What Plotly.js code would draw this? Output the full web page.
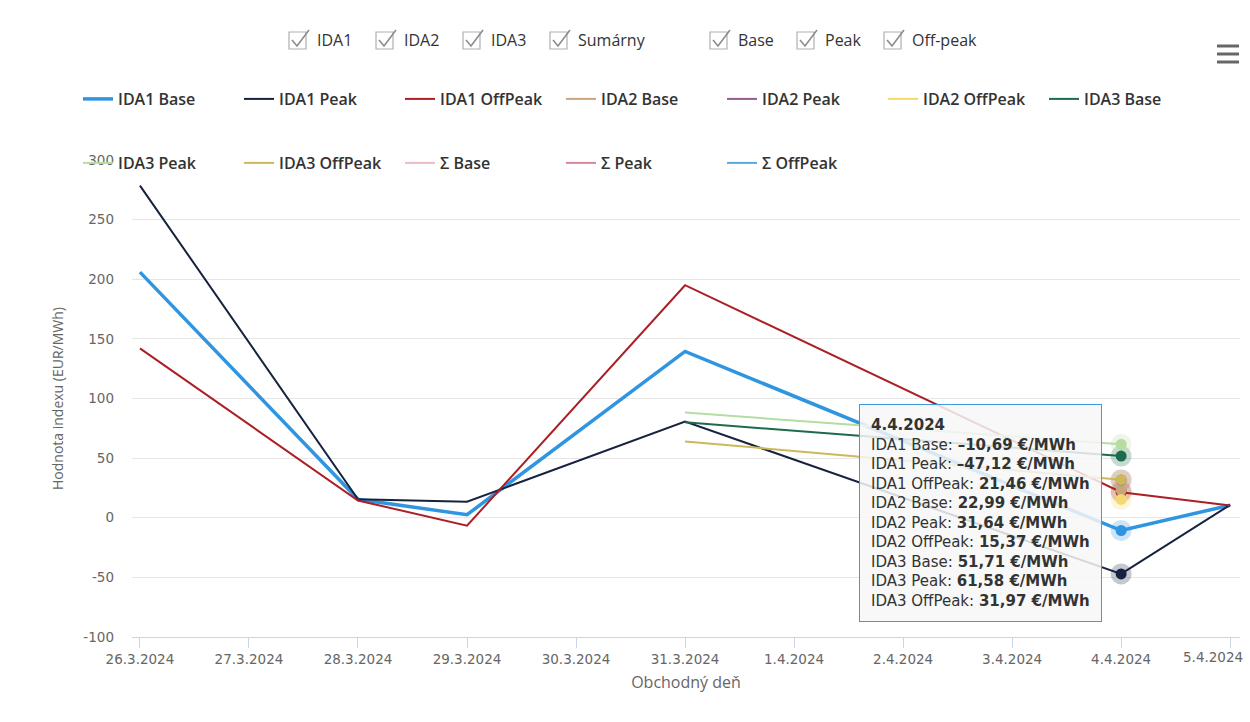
<!DOCTYPE html>
<html>
<head>
<meta charset="utf-8">
<script src="https://cdn.plot.ly/plotly-3.0.1.min.js"></script>
<style>html,body{margin:0;padding:0;background:#fff;}#chart{width:1250px;height:722px;}</style>
</head>
<body>
<div id="chart"></div>
<script>
// ---------------- data ----------------
const dates = ['2024-03-26', '2024-03-28', '2024-03-29', '2024-03-31', '2024-04-04', '2024-04-05'];
const ida1Base    = [206.0, 15.5, 2.5, 139.5, -10.69, 10.5];
const ida1Peak    = [278.5, 15.5, 13.4, 80.7, -47.12, 10.8];
const ida1OffPeak = [142.0, 14.5, -6.7, 195.0, 21.46, 10.3];
const ida2Dates   = ['2024-04-04'];
const ida2Base    = [22.99];
const ida2Peak    = [31.64];
const ida2OffPeak = [15.37];
const ida3Dates   = ['2024-03-31', '2024-04-04'];
const ida3Base    = [80.0, 51.71];
const ida3Peak    = [88.2, 61.58];
const ida3OffPeak = [64.0, 31.97];
const sumDates    = ['2024-04-04'];
const sumBase     = [null];
const sumPeak     = [null];
const sumOffPeak  = [null];
const hoverDate   = '2024-04-04';
const hoverLabel  = '4.4.2024';
const tickDates   = ['2024-03-26', '2024-03-27', '2024-03-28', '2024-03-29', '2024-03-30', '2024-03-31',
                     '2024-04-01', '2024-04-02', '2024-04-03', '2024-04-04', '2024-04-05'];
const tickLabels  = ['26.3.2024', '27.3.2024', '28.3.2024', '29.3.2024', '30.3.2024', '31.3.2024',
                     '1.4.2024', '2.4.2024', '3.4.2024', '4.4.2024', '5.4.2024'];
const yTicks      = [-100, -50, 0, 50, 100, 150, 200, 250, 300];
const filterLabels = ['IDA1', 'IDA2', 'IDA3', 'Sumárny', 'Base', 'Peak', 'Off-peak'];

// ---------------- series definitions ----------------
const series = [
  {name: 'IDA1 Base',    x: dates,     y: ida1Base,    color: '#2f95e0', width: 3.5, legend: 'legend',  tip: true},
  {name: 'IDA1 Peak',    x: dates,     y: ida1Peak,    color: '#16223f', width: 2,   legend: 'legend',  tip: true},
  {name: 'IDA1 OffPeak', x: dates,     y: ida1OffPeak, color: '#ab1f25', width: 2,   legend: 'legend',  tip: true},
  {name: 'IDA2 Base',    x: ida2Dates, y: ida2Base,    color: '#c9a57f', width: 2,   legend: 'legend',  tip: true},
  {name: 'IDA2 Peak',    x: ida2Dates, y: ida2Peak,    color: '#935a8f', width: 2,   legend: 'legend',  tip: true},
  {name: 'IDA2 OffPeak', x: ida2Dates, y: ida2OffPeak, color: '#f6d96e', width: 2,   legend: 'legend',  tip: true},
  {name: 'IDA3 Base',    x: ida3Dates, y: ida3Base,    color: '#1d6a4c', width: 2,   legend: 'legend',  tip: true},
  {name: 'IDA3 Peak',    x: ida3Dates, y: ida3Peak,    color: '#b6dca2', width: 2,   legend: 'legend2', tip: true},
  {name: 'IDA3 OffPeak', x: ida3Dates, y: ida3OffPeak, color: '#cdb95a', width: 2,   legend: 'legend2', tip: true},
  {name: 'Σ Base',       x: sumDates,  y: sumBase,     color: '#e9bcc3', width: 2,   legend: 'legend2', tip: false},
  {name: 'Σ Peak',       x: sumDates,  y: sumPeak,     color: '#d8879a', width: 2,   legend: 'legend2', tip: false},
  {name: 'Σ OffPeak',    x: sumDates,  y: sumOffPeak,  color: '#5aa9dc', width: 2,   legend: 'legend2', tip: false}
];

function hexA(hex, a) {
  const n = parseInt(hex.slice(1), 16);
  return 'rgba(' + (n >> 16) + ',' + ((n >> 8) & 255) + ',' + (n & 255) + ',' + a + ')';
}
function hoverPts(s) {
  const hx = [], hy = [];
  s.x.forEach((d, i) => { if (d === hoverDate && s.y[i] !== null) { hx.push(d); hy.push(s.y[i]); } });
  return {hx, hy};
}

const traces = [];
// hover halos (Highcharts hover state) for the highlighted day
series.forEach(s => {
  const p = hoverPts(s);
  traces.push({type: 'scatter', mode: 'markers', x: p.hx, y: p.hy, showlegend: false, hoverinfo: 'skip',
    marker: {color: hexA(s.color, 0.25), size: 21}});
});
// lines
series.forEach(s => {
  traces.push({type: 'scatter', mode: 'lines', name: s.name, legend: s.legend,
    x: s.x, y: s.y, line: {color: s.color, width: s.width}, hoverinfo: 'skip'});
});
// hover markers
series.forEach(s => {
  const p = hoverPts(s);
  traces.push({type: 'scatter', mode: 'markers', x: p.hx, y: p.hy, showlegend: false, hoverinfo: 'skip',
    marker: {color: s.color, size: 11}});
});

// ---------------- tooltip text built from data ----------------
function fmt(v) {
  const s = Math.abs(v).toFixed(2).replace('.', ',');
  return (v < 0 ? '\u2013' : '') + s;
}
const tipLines = ['<b>' + hoverLabel + '</b>'];
series.filter(s => s.tip).forEach(s => {
  const i = s.x.indexOf(hoverDate);
  if (i >= 0) tipLines.push(s.name + ': <b>' + fmt(s.y[i]) + ' €/MWh</b>');
});

// ---------------- layout helpers (pixel -> paper) ----------------
const L = 132, R = 1240, T = 160, B = 637;
const px2x = p => (p - L) / (R - L);
const py2y = p => (B - p) / (B - T);

const annotations = [];
const shapes = [];
const iconX = [289, 376, 463, 550, 710, 797, 884];
const textX = [315, 402, 489, 576, 736, 823, 910];
filterLabels.forEach((lab, i) => {
  const x0 = iconX[i];
  shapes.push({type: 'rect', xref: 'paper', yref: 'paper', x0: px2x(x0), x1: px2x(x0 + 17),
    y0: py2y(49), y1: py2y(32), line: {color: '#b0b0b0', width: 1.2}, fillcolor: 'rgba(0,0,0,0)'});
  shapes.push({type: 'path', xref: 'paper', yref: 'paper',
    path: 'M' + px2x(x0 + 3) + ',' + py2y(40) + ' L' + px2x(x0 + 8) + ',' + py2y(46) +
          ' L' + px2x(x0 + 20) + ',' + py2y(30),
    line: {color: '#8c8c8c', width: 1.6}});
  annotations.push({xref: 'paper', yref: 'paper', x: px2x(textX[i]), y: py2y(40), text: lab,
    showarrow: false, xanchor: 'left', yanchor: 'middle',
    font: {family: 'Open Sans', size: 16, color: '#333333'}});
});
// last tick label kept inside the chart, as Highcharts does
annotations.push({xref: 'paper', yref: 'paper', x: px2x(1245), y: py2y(657), xanchor: 'right', yanchor: 'middle',
  text: tickLabels[tickLabels.length - 1], showarrow: false,
  font: {family: 'DejaVu Sans', size: 13.5, color: '#666666'}});
annotations.push({
  xref: 'paper', yref: 'paper', x: px2x(859), y: py2y(404), xanchor: 'left', yanchor: 'top',
  text: tipLines.join('<br>'), align: 'left', showarrow: false,
  bgcolor: 'rgba(247,247,247,0.85)', bordercolor: '#3d9be0', borderwidth: 1, borderpad: 11,
  font: {family: 'DejaVu Sans', size: 15, color: '#333333'}
});

[46, 54, 62].forEach(yc => shapes.push({
  type: 'rect', xref: 'paper', yref: 'paper', x0: px2x(1217), x1: px2x(1239),
  y0: py2y(yc + 1.5), y1: py2y(yc - 1.5), fillcolor: '#666666', line: {width: 0}
}));

const legendCommon = {
  orientation: 'h', xref: 'paper', yref: 'paper', xanchor: 'left', yanchor: 'top',
  entrywidth: 116, entrywidthmode: 'pixels', bgcolor: 'rgba(0,0,0,0)',
  font: {family: 'Open Sans', size: 16, color: '#333333', weight: 600}, itemclick: false
};

const layout = {
  width: 1250, height: 722,
  margin: {l: L, r: 1250 - R, t: T, b: 722 - B, autoexpand: false},
  paper_bgcolor: '#ffffff', plot_bgcolor: '#ffffff',
  font: {family: 'Open Sans', color: '#666666'},
  showlegend: true,
  legend: Object.assign({}, legendCommon, {x: px2x(78), y: py2y(82)}),
  legend2: Object.assign({}, legendCommon, {x: px2x(78), y: py2y(146)}),
  xaxis: {
    type: 'date', range: ['2024-03-25 22:15', '2024-04-05 02:10'],
    tickvals: tickDates, ticktext: tickLabels.map((t, i) => i === tickLabels.length - 1 ? '' : t),
    showgrid: false, zeroline: false, showline: true, linecolor: '#ccd6eb', linewidth: 1,
    ticks: 'outside', ticklen: 10, tickcolor: '#ccd6eb',
    tickfont: {family: 'DejaVu Sans', size: 13.5, color: '#666666'},
    title: {text: 'Obchodný deň', font: {family: 'Open Sans', size: 16, color: '#666666'}, standoff: 10},
    automargin: false, fixedrange: true
  },
  yaxis: {
    range: [-100, 300], tickvals: yTicks, ticktext: yTicks.map(String),
    showgrid: true, gridcolor: '#e6e6e6', gridwidth: 1, zeroline: false, showline: false,
    ticks: '', ticklabelstandoff: 17,
    tickfont: {family: 'DejaVu Sans', size: 13.5, color: '#666666'},
    title: {text: 'Hodnota indexu (EUR/MWh)', font: {family: 'Open Sans', size: 14, color: '#666666'}, standoff: 16},
    automargin: false, fixedrange: true
  },
  annotations: annotations,
  shapes: shapes,
  hovermode: false
};

Plotly.newPlot('chart', traces, layout, {displayModeBar: false, staticPlot: true});
</script>
</body>
</html>
